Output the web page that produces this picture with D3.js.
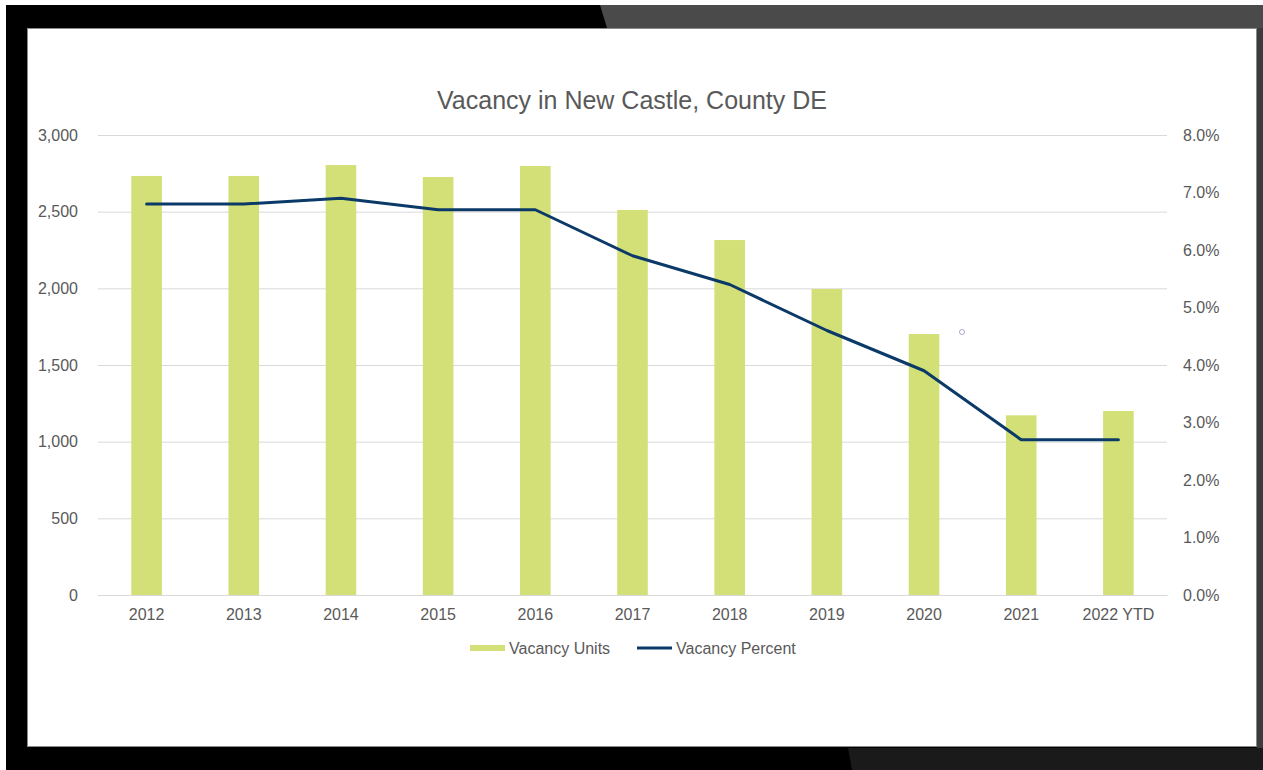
<!DOCTYPE html>
<html>
<head>
<meta charset="utf-8">
<script src="https://cdn.jsdelivr.net/npm/d3@7"></script>
<style>
  html, body { margin: 0; padding: 0; background: #fff; }
  svg { display: block; font-family: "Liberation Sans", Arial, sans-serif; }
</style>
</head>
<body>
<div id="chart"></div>
<script>
// Vacancy in New Castle County - units (bars) vs percent (line)

const years = ["2012", "2013", "2014", "2015", "2016", "2017", "2018", "2019", "2020", "2021", "2022 YTD"];
const vacancyUnits = [2733, 2733, 2804, 2726, 2798, 2511, 2315, 1996, 1702, 1172, 1200];
const vacancyPercent = [6.8, 6.8, 6.9, 6.7, 6.7, 5.9, 5.4, 4.6, 3.9, 2.7, 2.7];
const unitTicks = [0, 500, 1000, 1500, 2000, 2500, 3000];
const percentTicks = [0, 1, 2, 3, 4, 5, 6, 7, 8];

const W = 1263, H = 770;
const barColor = "#d3e077";
const lineColor = "#0c3a68";
const textColor = "#595959";
const gridColor = "#d9d9d9";
const fontSize = "16px";

const svg = d3.select("#chart")
  .append("svg")
  .attr("width", W)
  .attr("height", H);

// dark frame around the slide
svg.append("rect").attr("x", 0).attr("y", 0).attr("width", W).attr("height", H).attr("fill", "#fff");
svg.append("rect").attr("x", 6).attr("y", 5).attr("width", W - 6).attr("height", H - 5).attr("fill", "#000");
svg.append("polygon")
  .attr("points", `600,5 ${W},5 ${W},28 607,28`)
  .attr("fill", "#4a4a4a");
svg.append("polygon")
  .attr("points", `848,748 ${W},748 ${W},${H} 852,${H}`)
  .attr("fill", "#1a1a1a");
svg.append("rect")
  .attr("x", 1257).attr("y", 28).attr("width", 6).attr("height", 720)
  .attr("fill", "#3c3c3c");
svg.append("rect")
  .attr("x", 27.5).attr("y", 28.5).attr("width", 1229).attr("height", 718)
  .attr("fill", "#fff")
  .attr("stroke", "#8a8a8a")
  .attr("stroke-width", 1);

const margin = { top: 135, right: 96, bottom: 175, left: 98 };
const plotW = W - margin.left - margin.right;
const plotH = H - margin.top - margin.bottom;

const g = svg.append("g").attr("transform", `translate(${margin.left},${margin.top})`);

const x = d3.scaleBand().domain(years).range([0, plotW]).paddingInner(0.685).paddingOuter(0.3425);
const xc = d => x(d) + x.bandwidth() / 2;
const yL = d3.scaleLinear().domain([0, 3000]).range([plotH, 0]);
const yR = d3.scaleLinear().domain([0, 8]).range([plotH, 0]);

function styleTicks(a) {
  a.selectAll(".tick text")
    .attr("fill", textColor)
    .style("font-size", fontSize)
    .style("font-family", "Liberation Sans, Arial, sans-serif");
}

// gridlines
g.append("g")
  .attr("class", "grid")
  .call(d3.axisLeft(yL).tickValues(unitTicks).tickSize(-plotW).tickFormat(""))
  .call(a => a.select(".domain").remove())
  .call(a => a.selectAll(".tick line").attr("stroke", gridColor).attr("stroke-width", 1));

// left axis labels
g.append("g")
  .attr("transform", "translate(-17,0)")
  .call(d3.axisLeft(yL).tickValues(unitTicks).tickSize(0).tickFormat(d3.format(",")))
  .call(a => a.select(".domain").remove())
  .call(styleTicks);

// right axis labels
g.append("g")
  .attr("transform", `translate(${plotW + 13},0)`)
  .call(d3.axisRight(yR).tickValues(percentTicks).tickSize(0).tickFormat(d => d.toFixed(1) + "%"))
  .call(a => a.select(".domain").remove())
  .call(styleTicks);

// bars
g.selectAll("rect.bar")
  .data(years)
  .join("rect")
  .attr("class", "bar")
  .attr("x", d => x(d))
  .attr("width", x.bandwidth())
  .attr("y", (d, i) => yL(vacancyUnits[i]))
  .attr("height", (d, i) => plotH - yL(vacancyUnits[i]))
  .attr("fill", barColor);

// x axis
g.append("g")
  .attr("transform", `translate(0,${plotH})`)
  .call(d3.axisBottom(x).tickSize(0).tickPadding(13.5))
  .call(a => a.select(".domain").attr("stroke", gridColor))
  .call(styleTicks);

// percent line
const line = d3.line()
  .x((d, i) => xc(years[i]))
  .y(d => yR(d));

g.append("path")
  .datum(vacancyPercent)
  .attr("d", line)
  .attr("fill", "none")
  .attr("stroke", lineColor)
  .attr("stroke-width", 3)
  .attr("stroke-linejoin", "round")
  .attr("stroke-linecap", "round");

// stray marker seen on the slide
svg.append("circle")
  .attr("cx", 962).attr("cy", 332).attr("r", 2.5)
  .attr("fill", "none")
  .attr("stroke", "#a7a7cf")
  .attr("stroke-width", 1);

// title
svg.append("text")
  .attr("x", 632)
  .attr("y", 109)
  .attr("text-anchor", "middle")
  .attr("fill", textColor)
  .style("font-size", "25px")
  .text("Vacancy in New Castle, County DE");

// legend
const legend = svg.append("g").attr("transform", "translate(0,648)");
legend.append("rect")
  .attr("x", 470).attr("y", -3).attr("width", 35).attr("height", 6)
  .attr("fill", barColor);
legend.append("text")
  .attr("x", 509).attr("y", 6)
  .attr("fill", textColor)
  .style("font-size", fontSize)
  .text("Vacancy Units");
legend.append("line")
  .attr("x1", 637).attr("x2", 672).attr("y1", 0).attr("y2", 0)
  .attr("stroke", lineColor)
  .attr("stroke-width", 3);
legend.append("text")
  .attr("x", 676).attr("y", 6)
  .attr("fill", textColor)
  .style("font-size", fontSize)
  .text("Vacancy Percent");
</script>
</body>
</html>
